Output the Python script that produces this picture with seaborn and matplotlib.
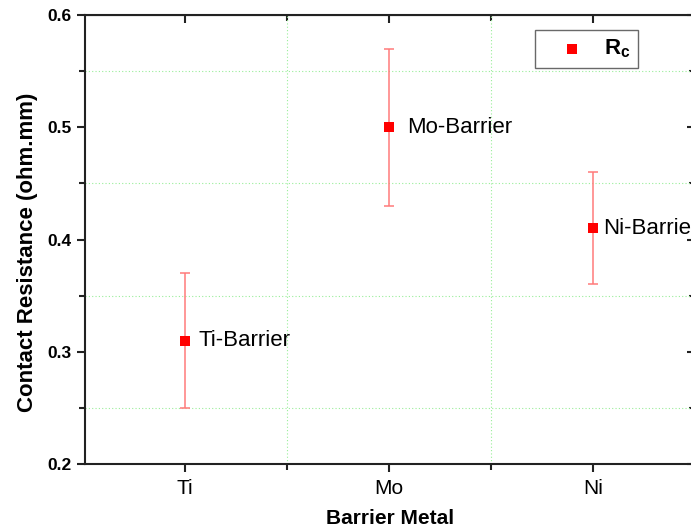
import matplotlib
matplotlib.use("Agg")
import matplotlib.pyplot as plt
from matplotlib.ticker import MultipleLocator, FixedLocator
import seaborn as sns
import pandas as pd

categories = ["Ti", "Mo", "Ni"]
rc_values = [0.31, 0.50, 0.41]
rc_errors = [0.06, 0.07, 0.05]
point_labels = ["Ti-Barrier", "Mo-Barrier", "Ni-Barrier"]

sns.set_style("ticks")
plt.rcParams['font.family'] = ['Liberation Sans', 'DejaVu Sans']
plt.rcParams['mathtext.fontset'] = 'custom'
plt.rcParams['mathtext.rm'] = 'Liberation Sans'
plt.rcParams['mathtext.bf'] = 'Liberation Sans:bold'
plt.rcParams['text.color'] = 'black'
plt.rcParams['axes.labelcolor'] = 'black'
plt.rcParams['xtick.color'] = 'black'
plt.rcParams['ytick.color'] = 'black'

df = pd.DataFrame({"metal": categories, "rc": rc_values, "err": rc_errors})

fig = plt.figure(figsize=(6.91, 5.29), dpi=100)
ax = fig.add_axes([85/691, 65/529, 610/691, 449/529])

pos = list(range(len(categories)))
ax.errorbar(pos, df["rc"], yerr=df["err"], fmt="none", ecolor="#ff7a7a",
            elinewidth=1.1, capsize=3.3, capthick=1.1, zorder=2)
sns.scatterplot(x=pos, y=df["rc"], marker="s", color="red", s=60,
                edgecolor="red", linewidth=0, ax=ax, zorder=3, label="$\\mathbf{R_c}$")

label_offsets_pt = [(9.5, 0), (13, 0), (7.5, 0)]
for x, y, t, off in zip(pos, rc_values, point_labels, label_offsets_pt):
    ax.annotate(t, (x, y), xytext=off, textcoords="offset points",
                fontsize=16, va="center", ha="left", color="black", clip_on=False)

ax.set_xlim(-0.49, 2.5)
ax.set_ylim(0.2, 0.6)
ax.set_xticks(pos)
ax.set_xticklabels(categories, fontsize=15)
ax.xaxis.set_minor_locator(FixedLocator([0.5, 1.5]))
ax.yaxis.set_major_locator(MultipleLocator(0.1))
ax.yaxis.set_minor_locator(MultipleLocator(0.05))
for lab in ax.get_yticklabels():
    lab.set_fontweight("bold")
    lab.set_fontsize(12.5)

ax.tick_params(which="both", direction="out", width=1.5, color="#222222")
ax.tick_params(which="major", length=6)
ax.tick_params(which="minor", length=4)
ax.tick_params(axis="both", which="both", top=False, right=False)
ax.tick_params(axis="x", pad=5)

# inward ticks on top / right
sec_top = ax.secondary_xaxis("top")
sec_top.set_xticks(pos)
sec_top.set_xticklabels([])
sec_top.xaxis.set_minor_locator(FixedLocator([0.5, 1.5]))
sec_top.tick_params(which="both", direction="in", width=1.5, color="#222222")
sec_top.tick_params(which="major", length=6)
sec_top.tick_params(which="minor", length=4)
sec_right = ax.secondary_yaxis("right")
sec_right.yaxis.set_major_locator(MultipleLocator(0.1))
sec_right.yaxis.set_minor_locator(MultipleLocator(0.05))
sec_right.set_yticklabels([])
sec_right.tick_params(which="both", direction="in", width=1.5, color="#222222")
sec_right.tick_params(which="major", length=6)
sec_right.tick_params(which="minor", length=4)

ax.grid(which="minor", color="#99ee99", linestyle=(0, (1, 2)), linewidth=0.8)
ax.grid(which="major", visible=False)
ax.set_axisbelow(True)

for sp in ax.spines.values():
    sp.set_visible(True)
    sp.set_linewidth(1.5)
    sp.set_color("#222222")

ax.set_xlabel("Barrier Metal", fontsize=15, fontweight="bold", labelpad=8)
ax.set_ylabel("Contact Resistance (ohm.mm)", fontsize=16, fontweight="bold")
ax.yaxis.set_label_coords(-47/610, (464-252)/449)

leg = ax.legend(loc="upper left", bbox_to_anchor=((535-85)/610, 1 - 15/449),
                borderaxespad=0, frameon=True, fancybox=False, edgecolor="#444444",
                fontsize=16, handletextpad=0.15, borderpad=0.35, markerscale=0.9,
                handlelength=2.6)
leg.get_frame().set_linewidth(1.0)

fig.savefig("out.png", dpi=100)
